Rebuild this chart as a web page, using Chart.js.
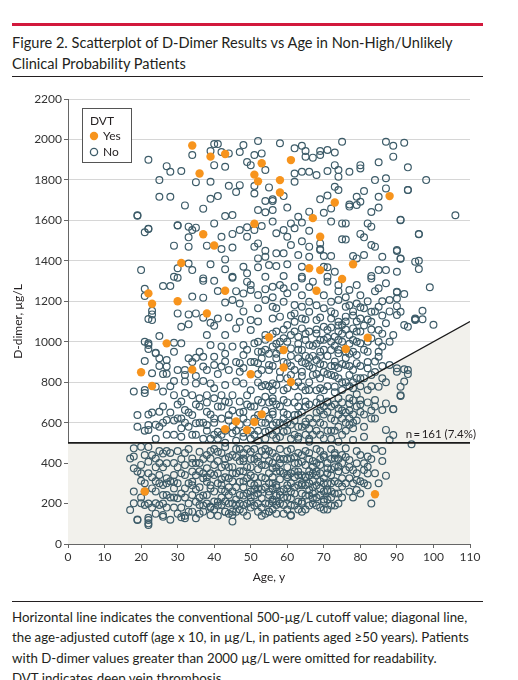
<!DOCTYPE html>
<html>
<head>
<meta charset="utf-8">
<script src="https://cdn.jsdelivr.net/npm/chart.js@4.4.0/dist/chart.umd.min.js"></script>
<style>
  body { margin: 0; background: #fff; width: 518px; height: 680px; overflow: hidden; position: relative; font-family: Lato, "Open Sans", sans-serif; color: #231f20; }
  .redbar { position: absolute; left: 12px; top: 23px; width: 471px; height: 3px; background: #d2183c; }
  .title { position: absolute; left: 12px; top: 32px; width: 490px; font-size: 14.6px; line-height: 21px; white-space: nowrap; }
  .rule { position: absolute; left: 12px; width: 471px; height: 1px; background: #231f20; }
  .note { position: absolute; left: 12px; top: 607px; width: 500px; font-size: 13.3px; line-height: 20.3px; white-space: nowrap; }
  #wrap { position: absolute; left: 0; top: 88px; width: 500px; height: 510px; }
</style>
</head>
<body>
<div class="redbar"></div>
<div class="title">Figure 2. Scatterplot of D-Dimer Results vs Age in Non-High/Unlikely<br>Clinical Probability Patients</div>
<div class="rule" style="top:76px"></div>
<div id="wrap"><canvas id="chart" width="500" height="510"></canvas></div>
<div class="rule" style="top:601px"></div>
<div class="note">Horizontal line indicates the conventional 500-µg/L cutoff value; diagonal line,<br>the age-adjusted cutoff (age x 10, in µg/L, in patients aged ≥50 years). Patients<br>with D-dimer values greater than 2000 µg/L were omitted for readability.<br>DVT indicates deep vein thrombosis.</div>

<script>
// x ticks / y ticks
var ageTicks = [0, 10, 20, 30, 40, 50, 60, 70, 80, 90, 100, 110];
var dimerTicks = [0, 200, 400, 600, 800, 1000, 1200, 1400, 1600, 1800, 2000, 2200];

// cutoff lines: conventional 500 and age x 10 from 50 y
var cutoffAges = [0, 50, 110];
var cutoffValues = [500, 500, 1100];
var countLabel = 'n\u2009=\u2009161 (7.4%)';

// DVT = Yes  [age, d-dimer]
var yesPoints = [[34,1970],[39,1915],[43,1928],[36,1832],[53,1882],[51,1826],[52,1793],[58,1799],[58,1738],[61,1898],
  [51,1583],[37,1531],[40,1476],[31,1389],[22,1239],[23,1188],[30,1200],[43,1252],[38,1140],[73,1688],[88,1720],
  [67,1611],[69,1519],[66,1363],[69,1354],[78,1383],[75,1310],[68,1252],[55,1022],[27,992],[20,849],[23,781],
  [34,862],[50,839],[43,568],[46,606],[49,563],[51,603],[53,641],[21,260],[59,959],[59,873],[61,801],[76,964],
  [82,1020],[84,246]];

// DVT = No  [age, d-dimer]
var noPoints = [
  // upper left
  [22,1900],[40,1977],[41,1977],[48,1972],[52,1992],[34,1923],[39,1943],[42,1938],[44,1931],[47,1938],[51,1923],[53,1931],
  [40,1873],[43,1865],[49,1888],[50,1873],[27,1868],[28,1840],[31,1844],[54,1849],[25,1799],[35,1789],[39,1791],[44,1771],
  [47,1774],[46,1740],[51,1770],[51,1733],[55,1763],[25,1717],[28,1717],[39,1707],[41,1720],[32,1674],[37,1658],[54,1696],
  [56,1696],[19,1625],[43,1621],[45,1626],[52,1651],[54,1640],[22,1559],[21,1541],[30,1574],[33,1569],[35,1564],[34,1552],
  [40,1585],[47,1552],[49,1566],[51,1552],[53,1572],[33,1516],[42,1519],[45,1533],[49,1519],[29,1475],[33,1470],[38,1475],
  [42,1458],[45,1466],[51,1470],[52,1486],[54,1450],[20,1354],[30,1363],[33,1387],[34,1354],[39,1383],[43,1407],[43,1358],
  [45,1321],[48,1371],[49,1338],[52,1412],[52,1368],[54,1420],[54,1321],[55,1379],[29,1321],[37,1313],
  // upper right
  [58,1981],[62,1956],[64,1969],[65,1943],[65,1915],[67,1910],[69,1943],[71,1948],[73,1935],[75,1989],[87,1989],[89,1969],
  [92,1984],[69,1923],[89,1915],[85,1887],[62,1832],[62,1791],[64,1840],[66,1840],[68,1824],[71,1844],[73,1873],[74,1849],
  [74,1816],[77,1840],[80,1873],[80,1857],[93,1862],[84,1799],[87,1808],[87,1758],[93,1750],[56,1704],[59,1720],[60,1663],
  [69,1704],[71,1723],[74,1750],[73,1766],[77,1668],[79,1717],[80,1692],[81,1745],[85,1717],[85,1663],[83,1641],[56,1651],
  [63,1618],[66,1643],[70,1638],[72,1659],[77,1678],[79,1676],[56,1594],[61,1585],[62,1561],[64,1589],[66,1549],[72,1594],
  [75,1585],[76,1585],[82,1585],[83,1569],[91,1603],[96,1531],[57,1536],[59,1552],[60,1519],[61,1478],[64,1497],[66,1470],
  [69,1486],[69,1458],[75,1507],[76,1505],[80,1533],[81,1516],[83,1478],[84,1470],[57,1437],[59,1437],[63,1429],[66,1420],
  [69,1453],[70,1424],[72,1424],[78,1424],[79,1412],[81,1429],[86,1420],[90,1453],[91,1410],[57,1374],[60,1383],[64,1371],
  [70,1371],[71,1368],[73,1346],[85,1354],[87,1354],[90,1346],[95,1396],[59,1325],[64,1321],[71,1321],[83,1325],
  [98,1799],[106,1625],[93,1750],[96,1533],[91,1601],[99,1269],[96,1400],[96,1359],[91,1412],[90,1448],[92,1236],[90,1244],
  [90,1214],[90,1176],[91,1148],[97,1153],[95,1115],[19,1623],[22,1557],[21,1262],[21,1226],[26,1275],[28,1275],[30,1576],
  // middle left
  [30,1316],[37,1301],[40,1301],[45,1316],[49,1297],[23,1153],[22,1112],[30,1140],[33,1135],[34,1223],[37,1218],[41,1251],
  [43,1194],[45,1206],[47,1189],[48,1239],[50,1256],[52,1231],[54,1206],[52,1165],[56,1173],[35,1140],[37,1119],[39,1094],
  [40,1079],[33,1086],[31,1074],[38,1033],[41,1115],[43,1033],[46,1066],[47,1099],[50,1107],[50,1058],[54,1033],[25,1028],
  [21,1000],[22,984],[22,964],[24,946],[29,995],[31,992],[33,918],[35,921],[37,926],[39,984],[40,926],[42,976],[45,976],
  [48,984],[48,934],[51,992],[52,951],[21,905],[25,918],[27,910],[27,877],[23,844],[27,842],[32,860],[32,836],[37,877],
  [40,885],[42,877],[43,902],[47,894],[47,851],[52,894],[53,918],[55,885],[29,806],[32,803],[35,794],[37,806],[39,794],
  [40,770],[43,786],[46,803],[48,794],[52,799],[54,786],[56,794],[18,754],[21,761],[24,778],[26,754],[29,736],[31,704],
  [32,746],[34,736],[36,720],[38,736],[40,720],[42,736],[43,704],[45,736],[47,704],[49,736],[52,712],[54,728],[56,704],
  [22,992],[23,1107],[23,1135],[24,943],[21,746],
  // middle right
  [56,1272],[59,1264],[62,1272],[64,1313],[67,1297],[71,1297],[74,1280],[77,1256],[79,1280],[83,1313],[85,1264],[87,1289],
  [90,1247],[57,1165],[59,1198],[62,1181],[64,1173],[66,1198],[66,1148],[70,1165],[72,1198],[74,1206],[76,1173],[79,1189],
  [81,1165],[83,1148],[85,1173],[88,1206],[90,1132],[92,1083],[95,1107],[93,1074],[56,1115],[58,1124],[60,1083],[62,1099],
  [64,1066],[64,1115],[68,1107],[70,1074],[72,1115],[74,1099],[75,1083],[76,1124],[78,1066],[80,1115],[83,1099],[85,1058],
  [87,1091],[89,1033],[88,1000],[57,1050],[59,1017],[61,1033],[63,1025],[65,1008],[68,1041],[69,1008],[71,1058],[73,1025],
  [74,1050],[74,1008],[77,1033],[78,1008],[80,992],[83,1017],[85,1000],[86,976],[56,976],[61,967],[64,959],[66,984],
  [69,951],[72,959],[74,943],[76,951],[79,934],[82,951],[85,926],[57,918],[60,894],[63,918],[65,894],[68,910],[70,885],
  [73,902],[76,885],[79,894],[82,869],[84,902],[88,885],[90,869],[93,860],[92,803],[91,736],[86,819],[58,851],[61,836],
  [64,851],[67,836],[69,819],[72,836],[74,819],[77,836],[80,819],[83,836],[57,786],[60,770],[64,778],[66,761],[69,770],
  [73,778],[75,761],[78,770],[82,761],[85,778],[56,720],[59,712],[63,728],[65,704],[69,720],[71,704],[74,720],[77,695],
  [80,712],[84,712],[87,695],[90,852],[92,864],[93,840],[91,778],[91,732],[89,666],[100,1084],[97,1111],[95,1111],
  // lower left
  [19,638],[22,588],[22,564],[25,654],[25,580],[27,613],[30,621],[31,572],[32,662],[34,638],[35,597],[38,654],[38,588],
  [40,621],[41,555],[44,638],[45,547],[48,654],[48,530],[52,638],[54,555],[56,588],[19,580],
  [18,473],[20,481],[17,423],[18,374],[20,391],[22,407],[24,423],[26,448],[27,399],[25,341],[26,292],[23,275],[18,259],
  [18,201],[20,201],[17,168],[21,193],[24,201],[25,193],[19,119],[22,119],[22,94],[26,143],[29,341],[29,275],[30,226],
  [33,160],[32,127],[34,242],[36,193],[38,242],[39,275],[41,209],[43,160],[45,143],[46,193],[48,160],[52,160],[55,160],
  [50,209],[53,226],[34,423],[36,456],[38,374],[39,423],[41,456],[43,391],[45,440],[48,423],[50,456],[52,407],[54,440],
  [56,374],[32,341],[34,308],[37,325],[38,308],[40,341],[42,292],[44,325],[47,308],[49,325],[51,292],[54,325],[56,275],
  [27,242],[26,242],[27,325],[29,308],[32,275],[34,358],[35,209],[37,160],[39,185],[39,143],[42,193],[44,242],[47,242],
  [48,193],[50,259],[52,275],[55,242],[45,111],[19,121],[22,102],[22,130],[26,135],[31,132],[32,140],[35,127],[45,160],
  [20,313],[19,359],[18,432],
  // lower right
  [56,654],[59,621],[62,638],[65,605],[68,621],[71,654],[74,670],[77,621],[78,572],[80,654],[83,621],[86,662],[89,667],
  [87,564],[89,539],[88,514],[81,530],[78,514],[76,473],[74,506],[70,522],[66,506],[63,530],[59,555],[57,522],[94,493],
  [86,460],[80,440],[82,432],[81,399],[82,382],[81,366],[82,349],[79,399],[77,415],[75,440],[73,423],[74,382],[71,374],
  [67,382],[64,407],[61,423],[58,399],[57,358],[60,341],[63,358],[65,333],[68,341],[70,325],[76,366],[78,366],[75,325],
  [77,325],[79,316],[81,300],[75,284],[77,259],[79,267],[87,338],[57,292],[60,275],[64,292],[66,267],[69,275],[71,267],
  [72,300],[58,242],[61,226],[64,209],[67,226],[70,209],[56,209],[55,160],[61,143],[57,193],[59,193],[61,140],
  // dense core below 500
  [40,170],[42,230],[44,280],[46,350],[48,410],[50,180],[51,330],[53,270],[55,410],[57,150],[58,320],[60,380],[62,250],
  [63,450],[65,170],[66,300],[68,400],[69,240],[71,350],[72,190],[41,300],[43,420],[45,260],[47,200],[49,470],[52,370],
  [54,200],[56,450],[57,280],[59,420],[61,300],[62,190],[64,340],[65,460],[67,280],[68,190],[70,430],[71,300],[72,420],
  [73,250],[39,350],[42,380],[44,200],[46,430],[48,280],[50,380],[51,240],[53,460],[55,300],[56,220],[58,470],[60,230],
  [61,350],[63,290],[64,160],[66,420],[67,350],[69,310],[70,260],[72,340],[40,470],[43,330],[45,380],[47,470],[49,250],
  [50,300],[52,200],[54,390],[55,350],[57,430],[59,270],[60,170],[62,400],[63,210],[65,390],[66,240],[68,290],[69,460],
  [71,220],[73,380],[36,280],[37,420],[38,200],[41,190],[43,260],[46,220],[48,360],[51,420],[53,330],[56,330],[58,200],
  [60,460],[62,330],[64,250],[66,360],[67,200],[69,390],[70,170],[72,260],[74,300],
  [37,240],[38,330],[39,180],[39,460],[40,260],[40,390],[41,140],[41,350],[42,320],[42,450],[43,210],[43,480],[44,380],
  [44,150],[45,310],[45,200],[46,280],[46,470],[47,170],[47,360],[48,240],[48,450],[49,140],[49,380],[50,230],[50,420],
  [51,190],[51,470],[52,300],[52,430],[53,180],[53,390],[54,280],[54,150],[55,200],[55,460],[56,300],[56,170],[57,380],
  [57,240],[58,260],[58,420],[59,350],[59,150],[60,290],[60,420],[61,190],[61,470],[62,280],[62,430],[63,170],[63,340],
  [64,440],[64,300],[65,240],[65,330],[66,190],[66,450],[67,410],[67,310],[68,230],[68,470],[69,180],[69,350],[70,300],
  [70,440],[71,400],[71,170],[72,230],[72,470],[73,310],[73,190],[74,420],[74,360],
  [36,400],[37,190],[38,440],[39,290],[40,210],[41,410],[42,270],[43,160],[44,430],[45,350],[46,160],[47,410],[48,310],
  [49,200],[50,340],[51,270],[52,250],[53,140],[54,470],[55,260],[56,400],[57,210],[58,360],[59,230],[60,330],[61,260],
  [62,360],[63,400],[64,200],[65,290],[66,340],[67,250],[68,360],[69,420],[70,220],[71,260],[72,370],[73,440],[74,250],
  [75,400],[76,300],[77,380],[78,230],[79,350],[80,310],
  [20,350],[21,260],[22,200],[22,480],[23,330],[24,150],[24,380],[25,300],[25,460],[26,380],[27,180],[27,460],[28,310],
  [28,120],[29,400],[29,230],[30,300],[30,460],[31,180],[31,350],[32,230],[32,390],[33,300],[33,470],[34,160],[34,400],
  [35,270],[35,340],[36,230],[36,360],
  [20,230],[21,300],[22,350],[23,180],[24,260],[25,400],[26,200],[27,300],[28,450],[29,180],[30,380],[31,250],[32,450],
  [33,200],[34,290],[35,400],[36,150],[37,350],[28,230],[30,150],[31,420],[23,440],[21,440],[24,310],
  [73,450],[74,200],[76,430],[78,300],[80,250],[82,290],[83,420],[84,350],[85,300],[83,200],[79,460],[75,230],[86,410],[84,470],
  // dense core 500-1100
  [50,520],[52,560],[53,700],[55,620],[56,540],[58,680],[59,590],[60,640],[61,520],[62,700],[63,580],[64,650],[65,540],
  [66,690],[67,600],[68,560],[69,660],[70,590],[71,700],[72,620],[73,560],[74,640],[75,700],[76,600],[77,660],[78,710],
  [79,740],[51,680],[54,520],[55,700],[57,600],[58,530],[60,560],[62,610],[63,680],[65,590],[66,520],[68,650],[69,540],
  [70,680],[72,560],[73,690],[75,620],[76,560],[77,720],[79,680],[50,760],[52,840],[53,780],[55,860],[56,760],[58,820],
  [59,900],[61,880],[62,780],[63,960],[64,830],[65,930],[66,800],[67,870],[68,760],[69,930],[70,850],[71,780],[72,880],
  [73,830],[74,960],[75,890],[76,800],[77,940],[78,860],[79,820],[80,780],[52,1000],[54,960],[56,1040],[58,960],[60,1000],
  [62,1050],[63,990],[65,1040],[66,920],[67,980],[68,1060],[70,1010],[71,930],[72,1070],[73,980],[75,1040],[76,1100],
  [77,990],[78,1130],[79,1050],[81,1080],[82,1000],
  [38,560],[39,640],[40,600],[41,520],[42,680],[43,560],[44,610],[45,660],[46,510],[47,590],[48,620],[49,690],[50,560],
  [51,620],[52,510],[53,600],[54,660],[55,560],[56,640],[57,690],[58,600],[59,650],[60,700],[61,590],[62,540],[63,640],
  [64,580],[65,680],[66,620],[67,540],[68,700],[69,600],[70,640],[71,560],[72,680],[73,610],[74,580],[75,540],[76,650],
  [77,590],[78,640],[79,610],[80,690],[81,640],[82,700],[83,660],[84,680],
  [42,540],[45,580],[48,550],[51,540],[54,600],[57,560],[60,600],[63,520],[66,570],[69,690],[72,520],[75,660],[78,600],
  [81,580],[84,620],
  [51,900],[53,860],[54,1010],[55,780],[56,880],[57,940],[58,1000],[59,760],[60,820],[61,930],[62,860],[63,800],[64,900],
  [65,760],[66,1050],[67,930],[68,840],[69,890],[70,760],[70,960],[71,840],[72,1000],[73,880],[73,750],[74,870],[75,800],
  [75,1000],[76,920],[77,780],[77,880],[78,950],[78,800],[79,1000],[80,880],[80,1050],[81,820],[81,960],[82,900],[83,780],
  [83,1060],[84,850],[85,950],[86,880],[86,1040],[87,800],
  [66,880],[68,990],[71,1020],[74,1080],[76,1060],[79,1100],[80,1170],[82,1110],[84,1150],[86,1200],[88,1150],[77,1180],
  [73,1140],[69,1120],[65,1110],[61,1130],[59,1060],[57,990],[55,940],[53,950],
  [40,540],[42,620],[43,500],[44,700],[46,560],[47,650],[49,600],[50,680],[41,680],[39,520],[37,600],[36,680],[35,540],
  [33,580],[31,620],[29,540],[28,650],[26,600],[24,520],[23,650],[41,840],[43,940],[44,860],[46,900],[48,870],[49,960],
  [50,900],[38,860],[36,950],[35,830],[34,900],[30,860],[29,950],[28,780],[26,840],[25,880],
  [21,560],[22,640],[24,590],[26,680],[27,540],[29,610],[30,690],[31,530],[32,600],[33,650],[34,540],[35,690],[36,600],
  [37,520],[38,700],
  [44,1120],[46,1250],[48,1150],[50,1280],[52,1100],[54,1260],[56,1220],[58,1280],[60,1240],[62,1140],[64,1230],[66,1270],
  [68,1180],[70,1230],[72,1150],[74,1250],[76,1220],[78,1150],[80,1230],[82,1200],[84,1250],[86,1130]
];

var noColor = '#3d5c69';
var yesColor = '#f7941d';
var shadeColor = '#f2f1ec';

function toXY(list) {
  return list.map(function(p) { return { x: p[0], y: p[1] }; });
}

var shade = cutoffAges.map(function(a, i) { return { x: a, y: cutoffValues[i] }; });
var flatLine = [{ x: cutoffAges[0], y: cutoffValues[0] }, { x: cutoffAges[2], y: cutoffValues[1] }];
var ageLine = [{ x: cutoffAges[1], y: cutoffValues[1] }, { x: cutoffAges[2], y: cutoffValues[2] }];

var FONT = 'Lato, "Open Sans", sans-serif';

// legend box and n label drawn on the canvas
var extras = {
  id: 'extras',
  afterDraw: function(chart) {
    var ctx = chart.ctx;
    var area = chart.chartArea;
    var xs = chart.scales.x, ys = chart.scales.y;
    ctx.save();
    // legend
    var bx = area.left + 14, by = area.top + 9;
    ctx.fillStyle = '#fff';
    ctx.fillRect(bx, by, 49, 54);
    ctx.strokeStyle = '#555';
    ctx.lineWidth = 1;
    ctx.strokeRect(bx + 0.5, by + 0.5, 49, 54);
    ctx.font = '12px ' + FONT;
    ctx.fillStyle = '#231f20';
    ctx.textBaseline = 'middle';
    ctx.fillText('DVT', bx + 8, by + 13);
    ctx.beginPath();
    ctx.arc(bx + 12, by + 28, 4.2, 0, Math.PI * 2);
    ctx.fillStyle = yesColor;
    ctx.fill();
    ctx.beginPath();
    ctx.arc(bx + 12, by + 44, 3.6, 0, Math.PI * 2);
    ctx.strokeStyle = noColor;
    ctx.lineWidth = 1.3;
    ctx.stroke();
    ctx.fillStyle = '#231f20';
    ctx.fillText('Yes', bx + 21, by + 28);
    ctx.fillText('No', bx + 21, by + 44);
    // n label
    ctx.textAlign = 'right';
    ctx.textBaseline = 'alphabetic';
    ctx.font = '11.5px ' + FONT;
    ctx.fillStyle = '#231f20';
    ctx.fillText(countLabel, xs.getPixelForValue(110) + 6, ys.getPixelForValue(cutoffValues[0]) - 5);
    ctx.restore();
  }
};

function plain(value) { return String(value); }

var ctx = document.getElementById('chart').getContext('2d');
var myChart = new Chart(ctx, {
  type: 'scatter',
  data: {
    datasets: [{
      label: 'shade',
      data: shade,
      showLine: true,
      fill: 'origin',
      backgroundColor: shadeColor,
      borderWidth: 0,
      pointRadius: 0,
      order: 10
    }, {
      label: 'No',
      data: toXY(noPoints),
      pointRadius: 3.4,
      pointBorderWidth: 1.2,
      borderColor: noColor,
      backgroundColor: 'rgba(0,0,0,0)',
      order: 5
    }, {
      label: 'Yes',
      data: toXY(yesPoints),
      pointRadius: 4.2,
      pointBorderWidth: 0,
      borderColor: yesColor,
      backgroundColor: yesColor,
      order: 3
    }, {
      label: 'conventional',
      data: flatLine,
      showLine: true,
      borderColor: '#1a1a1a',
      borderWidth: 1.6,
      pointRadius: 0,
      order: 1
    }, {
      label: 'age-adjusted',
      data: ageLine,
      showLine: true,
      borderColor: '#1a1a1a',
      borderWidth: 1.3,
      pointRadius: 0,
      order: 1
    }]
  },
  options: {
    responsive: false,
    animation: false,
    layout: { padding: { left: 0, right: 30, top: 11, bottom: 0 } },
    plugins: { legend: { display: false }, tooltip: { enabled: false } },
    scales: {
      x: {
        type: 'linear',
        min: 0, max: 110,
        afterBuildTicks: function(scale) { scale.ticks = ageTicks.map(function(v) { return { value: v }; }); },
        afterFit: function(scale) { scale.height = 54; },
        ticks: { color: '#333', font: { family: FONT, size: 12 }, padding: 2, callback: plain },
        grid: { drawOnChartArea: false, drawTicks: true, tickLength: 4, tickColor: '#666' },
        border: { color: '#666', width: 1 },
        title: { display: true, text: 'Age, y', color: '#231f20', font: { family: FONT, size: 12 }, padding: { top: 0, bottom: 14 } }
      },
      y: {
        type: 'linear',
        min: 0, max: 2200,
        afterBuildTicks: function(scale) { scale.ticks = dimerTicks.map(function(v) { return { value: v }; }); },
        afterFit: function(scale) { scale.width = 68; },
        ticks: { color: '#333', font: { family: FONT, size: 12 }, padding: 2, callback: plain },
        grid: { color: '#d6d6d6', lineWidth: 1, drawTicks: true, tickLength: 4, tickColor: '#666' },
        border: { color: '#666', width: 1 },
        title: { display: true, text: 'D-dimer, µg/L', color: '#231f20', font: { family: FONT, size: 12 }, padding: { top: 11, bottom: 0 } }
      }
    }
  },
  plugins: [extras]
});
</script>
</body>
</html>
